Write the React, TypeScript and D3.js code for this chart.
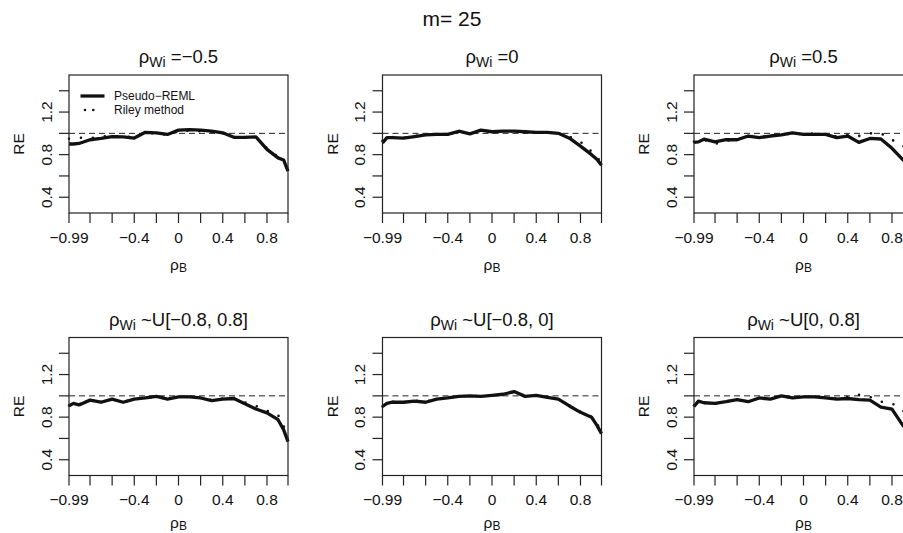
import React from "react";
import * as d3 from "d3";

const W = 903;
const H = 533;

// rho_B grid
const rhoB = [-0.99, -0.95, -0.9, -0.8, -0.7, -0.6, -0.5, -0.4, -0.3, -0.2, -0.1, 0, 0.1, 0.2, 0.3, 0.4, 0.5, 0.6, 0.7, 0.8, 0.9, 0.95, 0.99];

const xTicks = [-0.99, -0.8, -0.6, -0.4, -0.2, 0, 0.2, 0.4, 0.6, 0.8, 0.99];
const xTickLabels = ["\u22120.99", "", "", "\u22120.4", "", "0", "", "0.4", "", "0.8", ""];
const yTicks = [0.4, 0.6, 0.8, 1.0, 1.2, 1.4];
const yTickLabels = ["0.4", "", "0.8", "", "1.2", ""];

const titles = ["=\u22120.5", "=0", "=0.5", "~U[\u22120.8, 0.8]", "~U[\u22120.8, 0]", "~U[0, 0.8]"];

// Pseudo-REML relative efficiency, one array per panel
const reml1 = [0.9, 0.9, 0.905, 0.94, 0.953, 0.97, 0.966, 0.956, 1.01, 1.005, 0.99, 1.03, 1.035, 1.03, 1.02, 1.005, 0.963, 0.963, 0.966, 0.85, 0.77, 0.75, 0.645];
const reml2 = [0.91, 0.96, 0.96, 0.955, 0.97, 0.985, 0.99, 0.99, 1.02, 0.995, 1.03, 1.015, 1.02, 1.02, 1.015, 1.01, 1.01, 1.0, 0.955, 0.88, 0.8, 0.755, 0.7];
const reml3 = [0.915, 0.92, 0.945, 0.92, 0.94, 0.94, 0.975, 0.96, 0.975, 0.985, 1.005, 0.99, 0.99, 0.99, 0.96, 0.975, 0.915, 0.952, 0.947, 0.86, 0.75, 0.71, 0.67];
const reml4 = [0.906, 0.93, 0.915, 0.96, 0.94, 0.97, 0.94, 0.97, 0.98, 0.995, 0.97, 0.99, 0.99, 0.98, 0.955, 0.97, 0.975, 0.925, 0.876, 0.84, 0.776, 0.683, 0.57];
const reml5 = [0.9, 0.93, 0.94, 0.94, 0.95, 0.94, 0.97, 0.98, 0.995, 1.0, 0.995, 1.005, 1.015, 1.04, 0.995, 1.005, 0.985, 0.97, 0.905, 0.845, 0.8, 0.72, 0.645];
const reml6 = [0.9, 0.95, 0.935, 0.93, 0.945, 0.965, 0.945, 0.98, 0.97, 1.0, 0.98, 0.99, 0.99, 0.98, 0.97, 0.975, 0.965, 0.96, 0.895, 0.875, 0.72, 0.68, 0.64];

// Riley method relative efficiency
const riley1 = [0.95, 0.955, 0.96, 0.955, 0.97, 0.975, 0.97, 0.965, 1.0, 1.0, 0.985, 1.02, 1.025, 1.02, 1.015, 1.0, 0.965, 0.965, 0.965, 0.86, 0.78, 0.76, 0.66];
const riley2 = [0.93, 0.97, 0.965, 0.96, 0.975, 0.985, 0.99, 0.99, 1.015, 0.995, 1.025, 1.015, 1.02, 1.02, 1.015, 1.01, 1.01, 1.0, 0.97, 0.92, 0.83, 0.77, 0.73];
const riley3 = [0.92, 0.925, 0.94, 0.9, 0.93, 0.945, 0.97, 0.965, 0.975, 0.985, 1.0, 0.99, 1.0, 0.99, 0.97, 0.985, 0.975, 1.0, 1.0, 0.94, 0.88, 0.86, 0.84];
const riley4 = [0.91, 0.93, 0.92, 0.955, 0.945, 0.965, 0.945, 0.965, 0.985, 0.99, 0.975, 0.99, 0.995, 0.98, 0.96, 0.975, 0.98, 0.94, 0.905, 0.86, 0.82, 0.72, 0.58];
const riley5 = [0.9, 0.93, 0.945, 0.94, 0.955, 0.945, 0.975, 0.98, 0.99, 1.0, 0.995, 1.005, 1.015, 1.035, 0.995, 1.005, 0.99, 0.97, 0.91, 0.85, 0.805, 0.74, 0.66];
const riley6 = [0.91, 0.945, 0.935, 0.925, 0.95, 0.96, 0.95, 0.975, 0.975, 0.995, 0.985, 0.99, 0.995, 0.985, 0.975, 0.99, 1.01, 0.99, 0.945, 0.93, 0.86, 0.83, 0.8];

const remlSeries = [reml1, reml2, reml3, reml4, reml5, reml6];
const rileySeries = [riley1, riley2, riley3, riley4, riley5, riley6];

const font = "'Liberation Sans', Arial, Helvetica, sans-serif";
const colLeft = [69, 382.5, 694];
const rowTop = [75, 337.5];
const xLabOffset = [57, 52.5];
const boxW = 219;
const boxH = 138;

function Panel({ idx }: { idx: number }) {
  const row = Math.floor(idx / 3);
  const left = colLeft[idx % 3];
  const top = rowTop[row];
  const bottom = top + boxH;
  const right = left + boxW;

  const x = d3.scaleLinear().domain([-0.99, 0.99]).range([left, right]);
  const y = d3.scaleLinear().domain([0.252, 1.548]).range([bottom, top]);

  const line = d3
    .line<number>()
    .x((d, i) => x(rhoB[i]))
    .y(d => y(d));

  const cx = (left + right) / 2;
  const cy = (top + bottom) / 2;

  return (
    <g>
      <text x={cx} y={top - 12} textAnchor="middle" fontSize={18.5}>
        <tspan>ρ</tspan>
        <tspan fontSize={14} dy={4}>Wi</tspan>
        <tspan dy={-4}>{" " + titles[idx]}</tspan>
      </text>

      {/* reference line */}
      <line x1={left} x2={right} y1={y(1)} y2={y(1)} stroke="#222" strokeWidth={1} strokeDasharray="6,4" />

      <path d={line(rileySeries[idx]) || ""} fill="none" stroke="#111" strokeWidth={2.6}
        strokeDasharray="0,12" strokeLinecap="round" />
      <path d={line(remlSeries[idx]) || ""} fill="none" stroke="#111" strokeWidth={3.3}
        strokeLinejoin="round" />

      <rect x={left} y={top} width={boxW} height={boxH} fill="none" stroke="#222" strokeWidth={1.2} />

      {/* x axis */}
      {xTicks.map((t, i) => (
        <g key={"x" + i}>
          <line x1={x(t)} x2={x(t)} y1={bottom} y2={bottom + 10} stroke="#222" strokeWidth={1.2} />
          {xTickLabels[i] && (
            <text x={x(t)} y={bottom + 29.5} textAnchor="middle" fontSize={15.5}>{xTickLabels[i]}</text>
          )}
        </g>
      ))}
      <text x={cx} y={bottom + xLabOffset[row]} textAnchor="middle" fontSize={15.5}>
        <tspan>ρ</tspan>
        <tspan fontSize={12} dy={1.5}>B</tspan>
      </text>

      {/* y axis */}
      {yTicks.map((t, i) => (
        <g key={"y" + i}>
          <line x1={left - 10} x2={left} y1={y(t)} y2={y(t)} stroke="#222" strokeWidth={1.2} />
          {yTickLabels[i] && (
            <text transform={`translate(${left - 17.5},${y(t)}) rotate(-90)`} textAnchor="middle" fontSize={15.5}>
              {yTickLabels[i]}
            </text>
          )}
        </g>
      ))}
      <text transform={`translate(${left - 45},${cy}) rotate(-90)`} textAnchor="middle" fontSize={15.5}>RE</text>

      {idx === 0 && (
        <g>
          <line x1={80.5} x2={104.5} y1={96} y2={96} stroke="#111" strokeWidth={3.3} />
          <text x={114} y={100.3} fontSize={12}>Pseudo−REML</text>
          <line x1={85} x2={100} y1={110} y2={110} stroke="#111" strokeWidth={2.6}
            strokeDasharray="0,8.3" strokeLinecap="round" />
          <text x={114} y={114.3} fontSize={12}>Riley method</text>
        </g>
      )}
    </g>
  );
}

export default function App() {
  return (
    <svg width={W} height={H} style={{ position: "absolute", left: 0, top: 0, background: "#fff" }}
      fontFamily={font} fill="#111">
      <rect width={W} height={H} fill="#fff" />
      <text x={452} y={26} textAnchor="middle" fontSize={21}>m= 25</text>
      {[0, 1, 2, 3, 4, 5].map(i => <Panel key={i} idx={i} />)}
    </svg>
  );
}
